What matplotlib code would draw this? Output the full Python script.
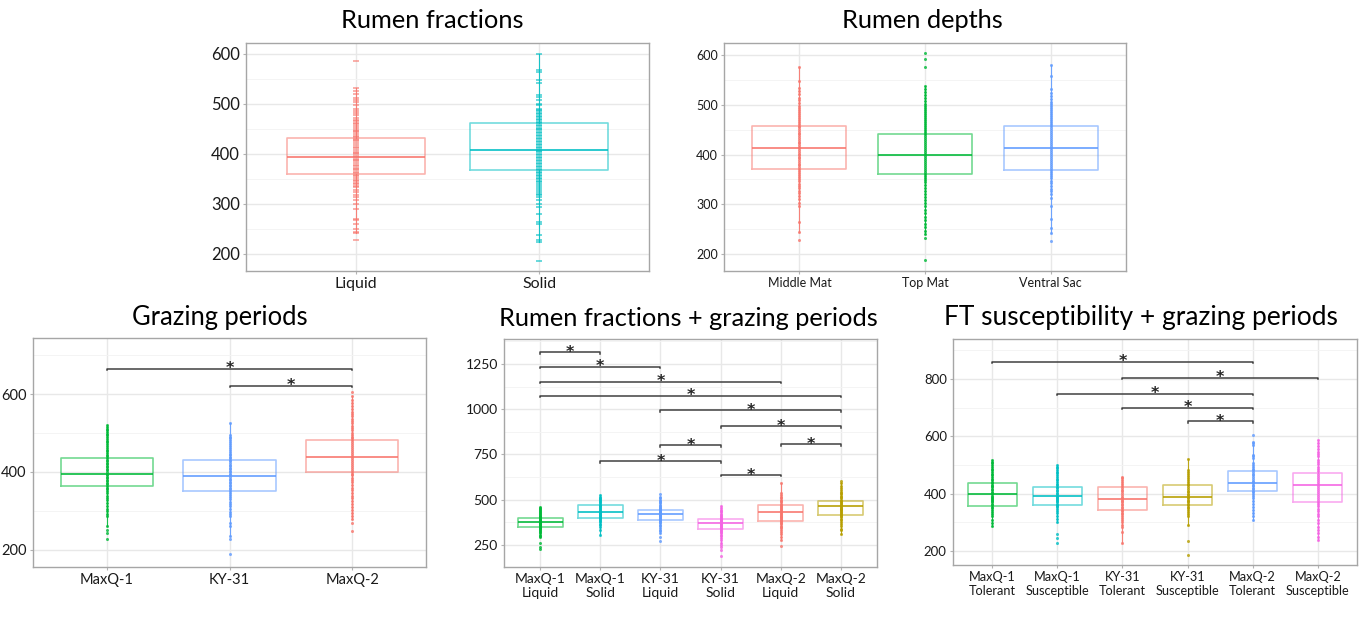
import matplotlib
matplotlib.use("Agg")
import matplotlib.pyplot as plt

plt.rcParams["font.family"] = ["Lato", "DejaVu Sans"]

# ---------------------------------------------------------------- data
# ggplot hue palette
RED, OLIVE, GREEN, CYAN, BLUE, MAGENTA = "#F8766D", "#B79F00", "#00BA38", "#00BFC4", "#619CFF", "#F564E3"

# Rumen fractions
frac_labels = ["Liquid", "Solid"]
frac_colors = [RED, CYAN]
frac_q1 = [360, 368]
frac_med = [394, 409]
frac_q3 = [433, 462]
frac_lo = [243, 225]
frac_hi = [533, 600]
frac_liquid = [587, 533, 527, 521, 513, 508, 505, 498, 491, 487, 483, 478, 473, 468, 466, 463, 460, 457,
               452, 449, 447, 444, 440, 436, 434, 431, 429, 426, 422, 419, 415, 412, 409, 405, 402, 400,
               397, 394, 391, 388, 386, 382, 379, 376, 373, 370, 368, 365, 362, 358, 356, 352, 349, 346,
               343, 341, 337, 335, 328, 324, 319, 315, 308, 301, 291, 271, 268, 261, 251, 245, 243, 228]
frac_solid = [600, 568, 565, 548, 543, 518, 515, 508, 501, 498, 491, 488, 486, 483, 480, 477, 474, 471,
              468, 465, 462, 459, 456, 453, 451, 448, 445, 442, 439, 436, 433, 430, 427, 424, 421, 418,
              415, 412, 409, 407, 404, 401, 398, 395, 392, 389, 386, 383, 380, 377, 374, 371, 368, 365,
              362, 359, 356, 353, 350, 347, 344, 341, 337, 333, 329, 325, 321, 318, 315, 308, 301, 295,
              281, 265, 260, 238, 228, 225, 187]

# Rumen depths
depth_labels = ["Middle Mat", "Top Mat", "Ventral Sac"]
depth_colors = [RED, GREEN, BLUE]
depth_q1 = [371, 360, 369]
depth_med = [413, 399, 414]
depth_q3 = [457, 441, 458]
depth_lo = [245, 240, 243]
depth_hi = [575, 537, 580]
depth_middle = [575, 547, 534, 528, 521, 514, 509, 503, 498, 494, 490, 486, 482, 477, 474, 470, 466, 461,
                458, 455, 451, 447, 444, 441, 437, 434, 430, 426, 423, 420, 416, 413, 409, 406, 402, 399,
                395, 392, 388, 385, 381, 378, 374, 371, 367, 363, 359, 355, 350, 346, 341, 337, 332, 327,
                323, 317, 311, 303, 297, 265, 245, 228]
depth_top = [604, 591, 576, 537, 531, 525, 519, 513, 508, 502, 497, 493, 489, 485, 481, 477, 473, 469,
             465, 461, 457, 453, 449, 445, 441, 437, 433, 429, 425, 421, 417, 413, 409, 405, 401, 397,
             393, 389, 385, 381, 377, 373, 369, 365, 361, 357, 353, 349, 344, 338, 333, 327, 321, 315,
             309, 302, 296, 289, 282, 275, 268, 261, 255, 247, 240, 233, 188]
depth_ventral = [580, 557, 531, 524, 517, 511, 506, 501, 497, 493, 489, 485, 481, 477, 473, 469, 465, 461,
                 457, 453, 449, 445, 441, 437, 433, 429, 425, 421, 417, 413, 409, 405, 401, 397, 393, 389,
                 385, 381, 377, 373, 369, 365, 361, 357, 352, 347, 342, 337, 331, 326, 320, 313, 297, 270,
                 253, 243, 227]

# Grazing periods
graze_labels = ["MaxQ-1", "KY-31", "MaxQ-2"]
graze_colors = [GREEN, BLUE, RED]
graze_q1 = [364, 351, 399]
graze_med = [396, 389, 438]
graze_q3 = [436, 430, 481]
graze_lo = [261, 235, 278]
graze_hi = [520, 527, 594]
graze_maxq1 = [520, 516, 511, 507, 503, 498, 494, 489, 485, 480, 476, 471, 466, 462, 457, 453, 448, 444,
               440, 436, 432, 428, 424, 420, 416, 412, 408, 404, 400, 396, 392, 388, 384, 380, 376, 372,
               368, 364, 360, 355, 350, 345, 339, 333, 327, 320, 313, 306, 299, 292, 286, 261, 252, 244, 228]
graze_ky31 = [527, 496, 491, 486, 481, 476, 471, 466, 462, 457, 452, 447, 443, 439, 435, 431, 427, 423,
              419, 415, 411, 407, 403, 399, 395, 391, 387, 383, 379, 375, 371, 367, 363, 359, 355, 351,
              346, 341, 336, 330, 324, 318, 312, 305, 298, 292, 286, 269, 261, 235, 227, 189]
graze_maxq2 = [605, 594, 585, 578, 570, 562, 555, 548, 543, 537, 531, 525, 519, 513, 507, 501, 496, 491,
               486, 481, 476, 471, 466, 461, 456, 451, 446, 441, 436, 431, 426, 421, 416, 411, 406, 401,
               396, 391, 385, 379, 373, 367, 360, 353, 346, 339, 332, 325, 318, 310, 302, 294, 286, 278,
               269, 248]
graze_sig = [(1, 3, 665), (2, 3, 622)]

# Rumen fractions + grazing periods
fg_labels = ["MaxQ-1\nLiquid", "MaxQ-1\nSolid", "KY-31\nLiquid", "KY-31\nSolid", "MaxQ-2\nLiquid", "MaxQ-2\nSolid"]
fg_colors = [GREEN, CYAN, BLUE, MAGENTA, RED, OLIVE]
fg_q1 = [351, 399, 390, 337, 380, 417]
fg_med = [375, 430, 423, 371, 432, 463]
fg_q3 = [399, 469, 445, 391, 469, 491]
fg_lo = [296, 305, 314, 262, 278, 311]
fg_hi = [462, 526, 517, 467, 591, 591]
fg_mq1_liq = [462, 455, 449, 444, 439, 433, 428, 423, 418, 412, 407, 402, 398, 394, 390, 386, 382, 378,
              375, 372, 369, 366, 362, 358, 354, 350, 346, 341, 336, 331, 326, 320, 314, 307, 300, 296,
              259, 241, 226]
fg_mq1_sol = [526, 517, 510, 503, 497, 491, 485, 479, 473, 468, 463, 458, 453, 448, 443, 438, 434, 430,
              426, 422, 418, 414, 410, 406, 402, 398, 393, 388, 382, 375, 368, 361, 351, 333, 305]
fg_ky_liq = [532, 517, 508, 500, 493, 486, 479, 472, 466, 460, 455, 450, 446, 442, 438, 434, 430, 426,
             423, 420, 416, 412, 408, 404, 400, 396, 392, 388, 383, 377, 370, 362, 354, 345, 335, 325,
             314, 296, 272]
fg_ky_sol = [467, 453, 445, 437, 430, 423, 417, 411, 405, 399, 394, 390, 386, 382, 378, 374, 371, 368,
             365, 361, 357, 353, 349, 345, 341, 337, 333, 328, 322, 315, 307, 298, 288, 276, 262, 250,
             241, 222, 189]
fg_mq2_liq = [591, 535, 526, 517, 508, 500, 492, 485, 478, 472, 466, 460, 454, 448, 442, 437, 432, 427,
              422, 417, 412, 407, 402, 397, 392, 387, 382, 377, 371, 364, 357, 349, 341, 332, 322, 311,
              296, 278, 245]
fg_mq2_sol = [605, 591, 575, 562, 554, 545, 537, 529, 521, 514, 507, 500, 494, 488, 482, 476, 471, 466,
              461, 456, 451, 446, 441, 436, 431, 426, 421, 416, 410, 403, 395, 386, 376, 365, 352, 340,
              333, 311]
fg_sig = [(1, 2, 1315), (1, 3, 1235), (1, 5, 1152), (1, 6, 1073), (3, 6, 993),
          (4, 6, 905), (5, 6, 806), (3, 4, 800), (2, 4, 712), (4, 5, 636)]

# FT susceptibility + grazing periods
ft_labels = ["MaxQ-1\nTolerant", "MaxQ-1\nSusceptible", "KY-31\nTolerant", "KY-31\nSusceptible",
             "MaxQ-2\nTolerant", "MaxQ-2\nSusceptible"]
ft_colors = [GREEN, CYAN, RED, OLIVE, BLUE, MAGENTA]
ft_q1 = [359, 362, 344, 361, 409, 371]
ft_med = [399, 391, 382, 389, 437, 431]
ft_q3 = [436, 423, 423, 430, 481, 471]
ft_lo = [288, 303, 228, 292, 309, 240]
ft_hi = [518, 501, 460, 521, 582, 588]
ft_mq1_tol = [518, 512, 506, 500, 494, 488, 482, 476, 470, 464, 458, 452, 447, 442, 437, 432, 427, 422,
              417, 412, 407, 402, 398, 394, 390, 386, 382, 378, 374, 370, 365, 360, 355, 349, 343, 337,
              330, 321, 309, 298, 288]
ft_mq1_sus = [501, 495, 489, 483, 477, 471, 465, 459, 453, 447, 441, 435, 429, 424, 419, 414, 409, 404,
              399, 394, 390, 386, 382, 378, 374, 370, 366, 362, 358, 353, 347, 340, 332, 323, 313, 303,
              260, 245, 228]
ft_ky_tol = [460, 454, 447, 440, 433, 426, 420, 414, 408, 402, 396, 390, 385, 380, 375, 370, 365, 360,
             355, 350, 345, 340, 334, 328, 322, 315, 308, 300, 293, 286, 268, 228]
ft_ky_sus = [521, 483, 476, 469, 462, 455, 448, 441, 435, 429, 423, 417, 411, 405, 400, 395, 390, 385,
             380, 375, 370, 365, 360, 355, 349, 343, 336, 329, 321, 292, 237, 187]
ft_mq2_tol = [603, 582, 576, 570, 535, 530, 524, 506, 500, 494, 488, 482, 476, 470, 464, 458, 452, 446,
              441, 436, 431, 426, 421, 416, 411, 406, 400, 393, 385, 376, 366, 355, 343, 332, 321, 309]
ft_mq2_sus = [588, 576, 566, 556, 546, 538, 530, 518, 510, 502, 494, 486, 478, 470, 462, 455, 448, 441,
              434, 427, 420, 413, 406, 399, 392, 385, 378, 371, 364, 356, 348, 339, 330, 321, 309, 297,
              285, 274, 263, 251, 240]
ft_sig = [(1, 5, 859), (3, 6, 803), (2, 5, 748), (3, 5, 699), (4, 5, 652)]

# ---------------------------------------------------------------- drawing
W, H = 1364, 619
fig = plt.figure(figsize=(W / 100, H / 100), dpi=100)
fig.patch.set_facecolor("white")


def panel(left, top, right, bottom):
    return fig.add_axes([left / W, 1 - bottom / H, (right - left) / W, (bottom - top) / H])


def draw_panel(ax, labels, colors, q1, med, q3, lo, hi, groups, ylim, major, minor,
               tick_fs, xtick_fs=None, marker="s", sig=None):
    n = len(labels)
    for i in range(n):
        pos = i + 1
        stats = [dict(med=med[i], q1=q1[i], q3=q3[i], whislo=lo[i], whishi=hi[i], fliers=[])]
        ax.bxp(stats, positions=[pos], widths=0.75, showcaps=False, showfliers=False,
               patch_artist=False,
               boxprops=dict(color=colors[i], lw=1.2, alpha=0.55),
               whiskerprops=dict(color=colors[i], lw=0.8, alpha=0.9),
               medianprops=dict(color=colors[i], lw=1.3, alpha=0.9))
        vals = groups[i]
        if marker == "_":
            ax.plot([pos] * len(vals), vals, ls="none", marker="_", ms=4.5, mew=1.1,
                    color=colors[i], alpha=0.75, zorder=3)
        else:
            ax.plot([pos] * len(vals), vals, ls="none", marker="o", ms=2.2, mew=0,
                    color=colors[i], alpha=0.8, zorder=3)
    ax.set_xlim(0.4, n + 0.6)
    ax.set_ylim(*ylim)
    ax.set_xticks(range(1, n + 1))
    ax.set_xticklabels(labels, fontsize=xtick_fs or tick_fs, color="#1A1A1A", linespacing=1.2)
    ax.set_yticks(major)
    ax.set_yticks(minor, minor=True)
    ax.set_yticklabels([str(v) for v in major], fontsize=tick_fs, color="#1A1A1A")
    ax.tick_params(axis="both", which="major", length=2.5, width=0.8, color="#B3B3B3", pad=2)
    ax.tick_params(axis="y", which="minor", length=0)
    ax.grid(True, which="major", color="#E8E8E8", lw=1.0)
    ax.grid(True, which="minor", axis="y", color="#F3F3F3", lw=0.6)
    ax.set_axisbelow(True)
    for s in ax.spines.values():
        s.set_color("#A6A6A6")
        s.set_linewidth(1.0)
    if sig:
        span = ylim[1] - ylim[0]
        tip = span * 0.006
        for a, b, y in sig:
            ax.plot([a, a, b, b], [y - tip, y, y, y - tip], color="#404040", lw=1.1, zorder=4)
            ax.annotate("*", xy=((a + b) / 2, y), xytext=(0, -3.2), textcoords="offset points",
                        ha="center", va="baseline", fontsize=11.5, fontweight="bold",
                        color="#262626", family="DejaVu Sans", zorder=5)


ax1 = panel(246, 43, 649, 271)
draw_panel(ax1, frac_labels, frac_colors, frac_q1, frac_med, frac_q3, frac_lo, frac_hi,
           [frac_liquid, frac_solid], (166, 622), [200, 300, 400, 500, 600],
           [250, 350, 450, 550], 12, xtick_fs=11.5, marker="_")

ax2 = panel(724, 43, 1126, 271)
draw_panel(ax2, depth_labels, depth_colors, depth_q1, depth_med, depth_q3, depth_lo, depth_hi,
           [depth_middle, depth_top, depth_ventral], (166, 624), [200, 300, 400, 500, 600],
           [250, 350, 450, 550], 9, xtick_fs=9)

ax3 = panel(33, 338, 426, 567)
draw_panel(ax3, graze_labels, graze_colors, graze_q1, graze_med, graze_q3, graze_lo, graze_hi,
           [graze_maxq1, graze_ky31, graze_maxq2], (156, 744), [200, 400, 600],
           [300, 500, 700], 10.5, sig=graze_sig)

ax4 = panel(504, 339, 877, 567)
draw_panel(ax4, fg_labels, fg_colors, fg_q1, fg_med, fg_q3, fg_lo, fg_hi,
           [fg_mq1_liq, fg_mq1_sol, fg_ky_liq, fg_ky_sol, fg_mq2_liq, fg_mq2_sol],
           (128, 1388), [250, 500, 750, 1000, 1250], [375, 625, 875, 1125, 1375], 10,
           sig=fg_sig)

ax5 = panel(953, 339, 1357, 565)
draw_panel(ax5, ft_labels, ft_colors, ft_q1, ft_med, ft_q3, ft_lo, ft_hi,
           [ft_mq1_tol, ft_mq1_sus, ft_ky_tol, ft_ky_sus, ft_mq2_tol, ft_mq2_sus],
           (152, 939), [200, 400, 600, 800], [300, 500, 700, 900], 9.5, xtick_fs=9.2,
           sig=ft_sig)

# panel titles
titles = [("Rumen fractions", 432, 21, 18.3), ("Rumen depths", 922, 21, 18.3),
          ("Grazing periods", 220, 318, 18.4), ("Rumen fractions + grazing periods", 688, 318, 18.3),
          ("FT susceptibility + grazing periods", 1141, 318, 19.0)]
for text, x, y, fs in titles:
    fig.text(x / W, 1 - y / H, text, ha="center", va="center", fontsize=fs, color="#000000")

fig.savefig("out.png", dpi=100, facecolor="white")
